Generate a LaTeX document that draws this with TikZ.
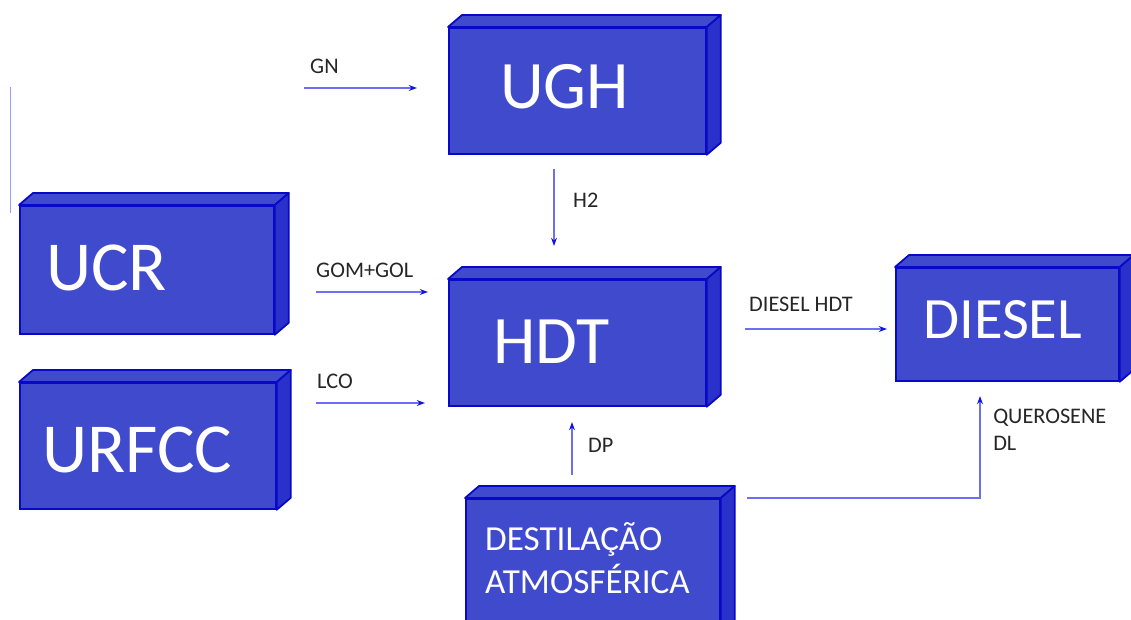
\documentclass[tikz,border=0pt]{standalone}
\usepackage{fontspec}
\setmainfont{Carlito}
\usetikzlibrary{arrows.meta}
\definecolor{caixa}{RGB}{64,74,204}
\definecolor{borda}{RGB}{8,8,200}
\definecolor{seta}{RGB}{110,110,245}
\definecolor{ponta}{RGB}{20,20,225}
\tikzset{
  bloco/.style={draw=borda, line width=1.5pt, fill=caixa, anchor=north west, inner sep=0pt},
  face/.style={draw=borda, line width=1.5pt, fill=caixa, line join=round},
  titulo/.style={anchor=base west, text=white, inner sep=0pt},
  rotulo/.style={anchor=base west, inner sep=0pt, text=black!85, font=\fontsize{19}{23}\selectfont},
  fluxo/.style={draw=seta, line width=1.2pt, -{Stealth[length=7pt,width=5pt,color=ponta]}}
}

\begin{document}
\begin{tikzpicture}[x=0.03cm,y=-0.03cm]
\useasboundingbox (0,0) rectangle (1131,619);
% caixas
\node[bloco, minimum width=7.71cm, minimum height=3.78cm] (UGH) at (448,27) {};
\node[bloco, minimum width=7.62cm, minimum height=3.84cm] (UCR) at (19,205) {};
\node[bloco, minimum width=7.68cm, minimum height=3.78cm] (URFCC) at (19,382) {};
\node[bloco, minimum width=7.71cm, minimum height=3.78cm] (HDT) at (448,279) {};
\node[bloco, minimum width=6.69cm, minimum height=3.39cm] (DIESEL) at (895,267) {};
\node[bloco, minimum width=7.62cm, minimum height=4.2cm] (DEST) at (465,498) {};
\foreach \n in {UGH,UCR,URFCC,HDT,DIESEL,DEST}{
  \draw[face] (\n.north west) -- ++(14,-12) -- ([shift={(14,-12)}]\n.north east) -- (\n.north east) -- cycle;
  \draw[face, fill=caixa!60!borda] (\n.north east) -- ++(14,-12) -- ([shift={(14,-12)}]\n.south east) -- (\n.south east) -- cycle;
}
\node[titulo, font=\fontsize{58}{60}\selectfont] (tUGH) at (500,108) {UGH};
\node[titulo, font=\fontsize{60}{60}\selectfont] (tUCR) at (46,290) {UCR};
\node[titulo, font=\fontsize{60}{60}\selectfont] (tURFCC) at (42,472) {URFCC};
\node[titulo, font=\fontsize{58}{60}\selectfont] (tHDT) at (493,363) {HDT};
\node[titulo, font=\fontsize{50}{52}\selectfont] (tDIESEL) at (923,338) {DIESEL};
\node[titulo, align=left, font=\fontsize{30}{36.7}\selectfont] (tDEST) at (485,593) {DESTILAÇÃO\\ATMOSFÉRICA};

% fluxos
\node[rotulo] (lGN) at (310,74) {GN};
\node[rotulo] (lH2) at (573,207) {H2};
\node[rotulo] (lGOM) at (316,277) {GOM+GOL};
\node[rotulo] (lLCO) at (317,388) {LCO};
\node[rotulo] (lDH) at (749,311) {DIESEL HDT};
\node[rotulo] (lDP) at (588,452) {DP};
\node[rotulo, align=left] (lQ) at (993,450) {QUEROSENE\\DL};
\coordinate (gn0) at (304,88);  \coordinate (gn1) at (417,88);
\coordinate (h20) at (554,169); \coordinate (h21) at (554,246);
\coordinate (gom0) at (316,292); \coordinate (gom1) at (428,292);
\coordinate (lco0) at (316,403); \coordinate (lco1) at (425,403);
\coordinate (dh0) at (745,329); \coordinate (dh1) at (887,329);
\coordinate (dp0) at (572,475); \coordinate (dp1) at (572,422);
\coordinate (q0) at (747,498);  \coordinate (q1) at (980,396);
\draw[fluxo] (gn0) -- (gn1);
\draw[fluxo] (h20) -- (h21);
\draw[fluxo] (gom0) -- (gom1);
\draw[fluxo] (lco0) -- (lco1);
\draw[fluxo] (dh0) -- (dh1);
\draw[fluxo] (dp0) -- (dp1);
\draw[fluxo] (q0) -| (q1);
\coordinate (v0) at (10,87); \coordinate (v1) at (10,213);
\draw[seta!70, line width=0.8pt] (v0) -- (v1);
\end{tikzpicture}
\end{document}
